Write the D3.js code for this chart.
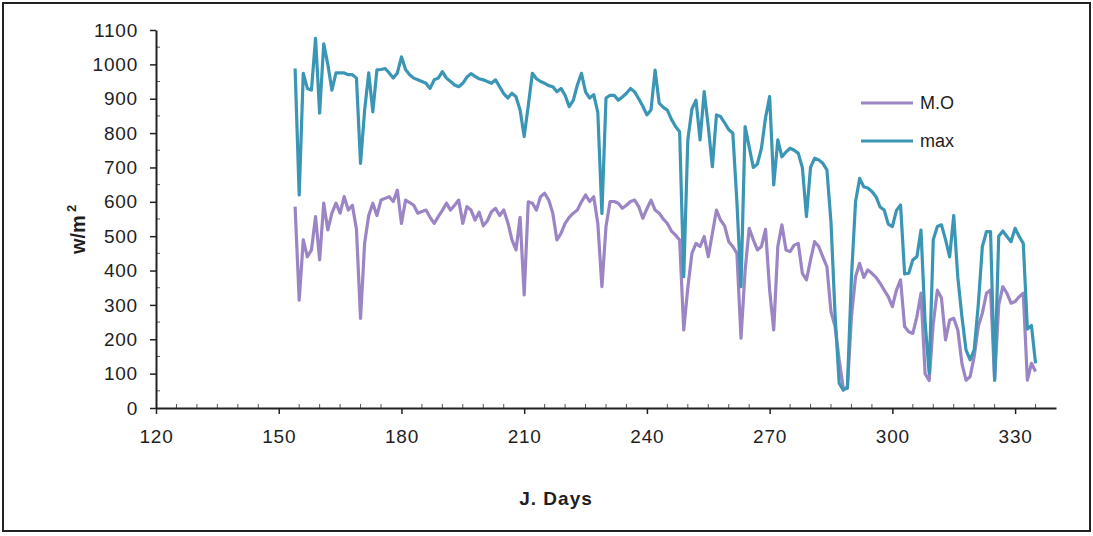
<!DOCTYPE html>
<html>
<head>
<meta charset="utf-8">
<script src="https://cdn.jsdelivr.net/npm/d3@7"></script>
<style>
body { margin: 0; background: #fff; }
text { font-family: "Liberation Sans", Arial, sans-serif; fill: #1e1e1e; }
</style>
</head>
<body>
<svg id="chart" width="1093" height="536"></svg>
<script>
'use strict';

// Julian days with a reading, 154 .. 335
var days = d3.range(154, 336);

var moValues = [
    586, 314, 489, 440, 460, 557, 431, 596, 518, 567,   // 154-163
    596, 567, 615, 576, 590, 520, 261, 480, 560, 596,   // 164-173
    560, 605, 610, 615, 601, 634, 537, 605, 598, 590,   // 174-183
    567, 572, 576, 555, 537, 557, 575, 596, 576, 590,   // 184-193
    605, 537, 586, 576, 547, 570, 530, 545, 571, 581,   // 194-203
    560, 576, 540, 490, 460, 555, 329, 600, 596, 576,   // 204-213
    615, 625, 605, 567, 489, 508, 537, 555, 567, 576,   // 214-223
    600, 620, 601, 615, 537, 353, 528, 601, 601, 596,   // 224-233
    581, 590, 601, 605, 586, 552, 580, 605, 576, 567,   // 234-243
    550, 537, 515, 503, 489, 227, 350, 450, 479, 470,   // 244-253
    499, 440, 508, 576, 547, 530, 484, 470, 450, 203,   // 254-263
    400, 523, 490, 460, 470, 520, 343, 227, 470, 533,   // 264-273
    460, 455, 474, 479, 392, 373, 431, 484, 470, 440,   // 274-283
    411, 280, 237, 140, 57, 57, 266, 382, 421, 380,     // 284-293
    402, 392, 380, 363, 343, 324, 295, 343, 373, 237,   // 294-303
    222, 217, 266, 334, 100, 80, 246, 343, 320, 198,    // 304-313
    256, 261, 227, 130, 81, 91, 150, 237, 276, 334,     // 314-323
    343, 81, 300, 353, 334, 305, 310, 324, 334, 81,     // 324-333
    130, 106                                            // 334-335
];

var maxValues = [
    988, 620, 974, 930, 925, 1076, 858, 1060, 1000, 925, // 154-163
    975, 975, 975, 970, 970, 960, 712, 867, 975, 862,    // 164-173
    984, 985, 988, 975, 960, 975, 1022, 985, 970, 960,   // 174-183
    955, 950, 945, 930, 955, 960, 979, 960, 950, 940,    // 184-193
    935, 945, 963, 973, 965, 958, 955, 950, 945, 955,    // 194-203
    935, 915, 902, 916, 906, 867, 790, 880, 974, 958,    // 204-213
    950, 945, 938, 935, 920, 930, 910, 877, 895, 940,    // 214-223
    974, 920, 902, 912, 860, 566, 902, 910, 910, 896,    // 224-233
    905, 916, 930, 920, 900, 878, 853, 867, 983, 887,    // 234-243
    875, 867, 840, 819, 804, 382, 780, 870, 896, 780,    // 244-253
    921, 819, 702, 853, 848, 830, 810, 800, 600, 353,    // 254-263
    819, 760, 700, 710, 756, 845, 906, 649, 780, 731,    // 264-273
    745, 756, 750, 741, 700, 557, 700, 727, 722, 712,    // 274-283
    693, 540, 270, 72, 52, 60, 380, 600, 668, 644,       // 284-293
    640, 630, 615, 585, 576, 535, 528, 575, 591, 390,    // 294-303
    392, 431, 440, 518, 250, 101, 490, 528, 533, 490,    // 304-313
    440, 560, 380, 266, 169, 140, 169, 300, 470, 513,    // 314-323
    513, 81, 500, 515, 499, 484, 523, 499, 479, 230,     // 324-333
    240, 130                                             // 334-335
];

var seriesNames = ['M.O', 'max'];
var seriesColours = ['#9b85c5', '#3b96b6'];

var xTickValues = [120, 150, 180, 210, 240, 270, 300, 330];
var yTickValues = d3.range(0, 1101, 100);

var svg = d3.select('#chart');

// Outer frame of the chart.
svg.append('rect')
    .attr('x', 3).attr('y', 3)
    .attr('width', 1087).attr('height', 528)
    .attr('fill', 'none')
    .attr('stroke', '#222')
    .attr('stroke-width', 2);

var x = d3.scaleLinear().domain([120, 340]).range([156, 1056]);
var y = d3.scaleLinear().domain([0, 1100]).range([408, 30]);

// Minor ticks first so the axis lines sit on top.
var minorX = d3.range(125, 340, 5).filter(function(d) { return d % 30 !== 0; });
svg.append('g').selectAll('line')
    .data(minorX)
    .enter().append('line')
        .attr('x1', function(d) { return x(d); })
        .attr('x2', function(d) { return x(d); })
        .attr('y1', y(0) - 4)
        .attr('y2', y(0))
        .attr('stroke', '#555')
        .attr('stroke-width', 1);

var minorY = d3.range(50, 1100, 100);
svg.append('g').selectAll('line')
    .data(minorY)
    .enter().append('line')
        .attr('x1', x(120))
        .attr('x2', x(120) + 4)
        .attr('y1', function(d) { return y(d); })
        .attr('y2', function(d) { return y(d); })
        .attr('stroke', '#555')
        .attr('stroke-width', 1);

var xAxis = svg.append('g')
    .attr('transform', 'translate(0,' + y(0) + ')')
    .call(d3.axisBottom(x).tickValues(xTickValues).tickFormat(d3.format('d'))
        .tickSize(6).tickPadding(16).tickSizeOuter(0));

var yAxis = svg.append('g')
    .attr('transform', 'translate(' + x(120) + ',0)')
    .call(d3.axisLeft(y).tickValues(yTickValues).tickFormat(d3.format('d'))
        .tickSize(6).tickPadding(12).tickSizeOuter(0));

[xAxis, yAxis].forEach(function(axis) {
    axis.select('.domain').attr('stroke', '#222').attr('stroke-width', 2);
    axis.selectAll('.tick line').attr('stroke', '#222').attr('stroke-width', 1.5);
    axis.selectAll('.tick text')
        .style('font-family', '"Liberation Sans", Arial, sans-serif')
        .style('font-size', '19px')
        .style('letter-spacing', '0.8px')
        .attr('fill', '#1e1e1e');
});

// Axis titles.
svg.append('text')
    .attr('x', 556)
    .attr('y', 505)
    .attr('text-anchor', 'middle')
    .style('font-size', '19px')
    .style('font-weight', 'bold')
    .style('letter-spacing', '1px')
    .text('J. Days');

var yTitle = svg.append('text')
    .attr('transform', 'translate(85,254) rotate(-90)')
    .attr('text-anchor', 'start')
    .style('font-size', '20px')
    .style('font-weight', 'bold');
yTitle.append('tspan').text('w/m');
yTitle.append('tspan').attr('dy', -9).attr('dx', 3).style('font-size', '13px').text('2');

// Series lines.
var series = [moValues, maxValues];
var line = d3.line()
    .x(function(d, i) { return x(days[i]); })
    .y(function(d) { return y(d); });

series.forEach(function(values, s) {
    svg.append('path')
        .datum(values)
        .attr('d', line)
        .attr('fill', 'none')
        .attr('stroke', seriesColours[s])
        .attr('stroke-width', 3.2)
        .attr('stroke-linejoin', 'round');
});

// Legend.
var legend = svg.append('g').attr('transform', 'translate(861,103)');
var legendItems = legend.selectAll('g')
    .data(seriesNames)
    .enter().append('g')
        .attr('transform', function(d, i) { return 'translate(0,' + (i * 38) + ')'; });

legendItems.append('line')
    .attr('x1', 0).attr('x2', 52)
    .attr('stroke', function(d, i) { return seriesColours[i]; })
    .attr('stroke-width', 3);

legendItems.append('text')
    .attr('x', 59)
    .attr('dy', '0.35em')
    .style('font-size', '18px')
    .text(function(d) { return d; });
</script>
</body>
</html>
